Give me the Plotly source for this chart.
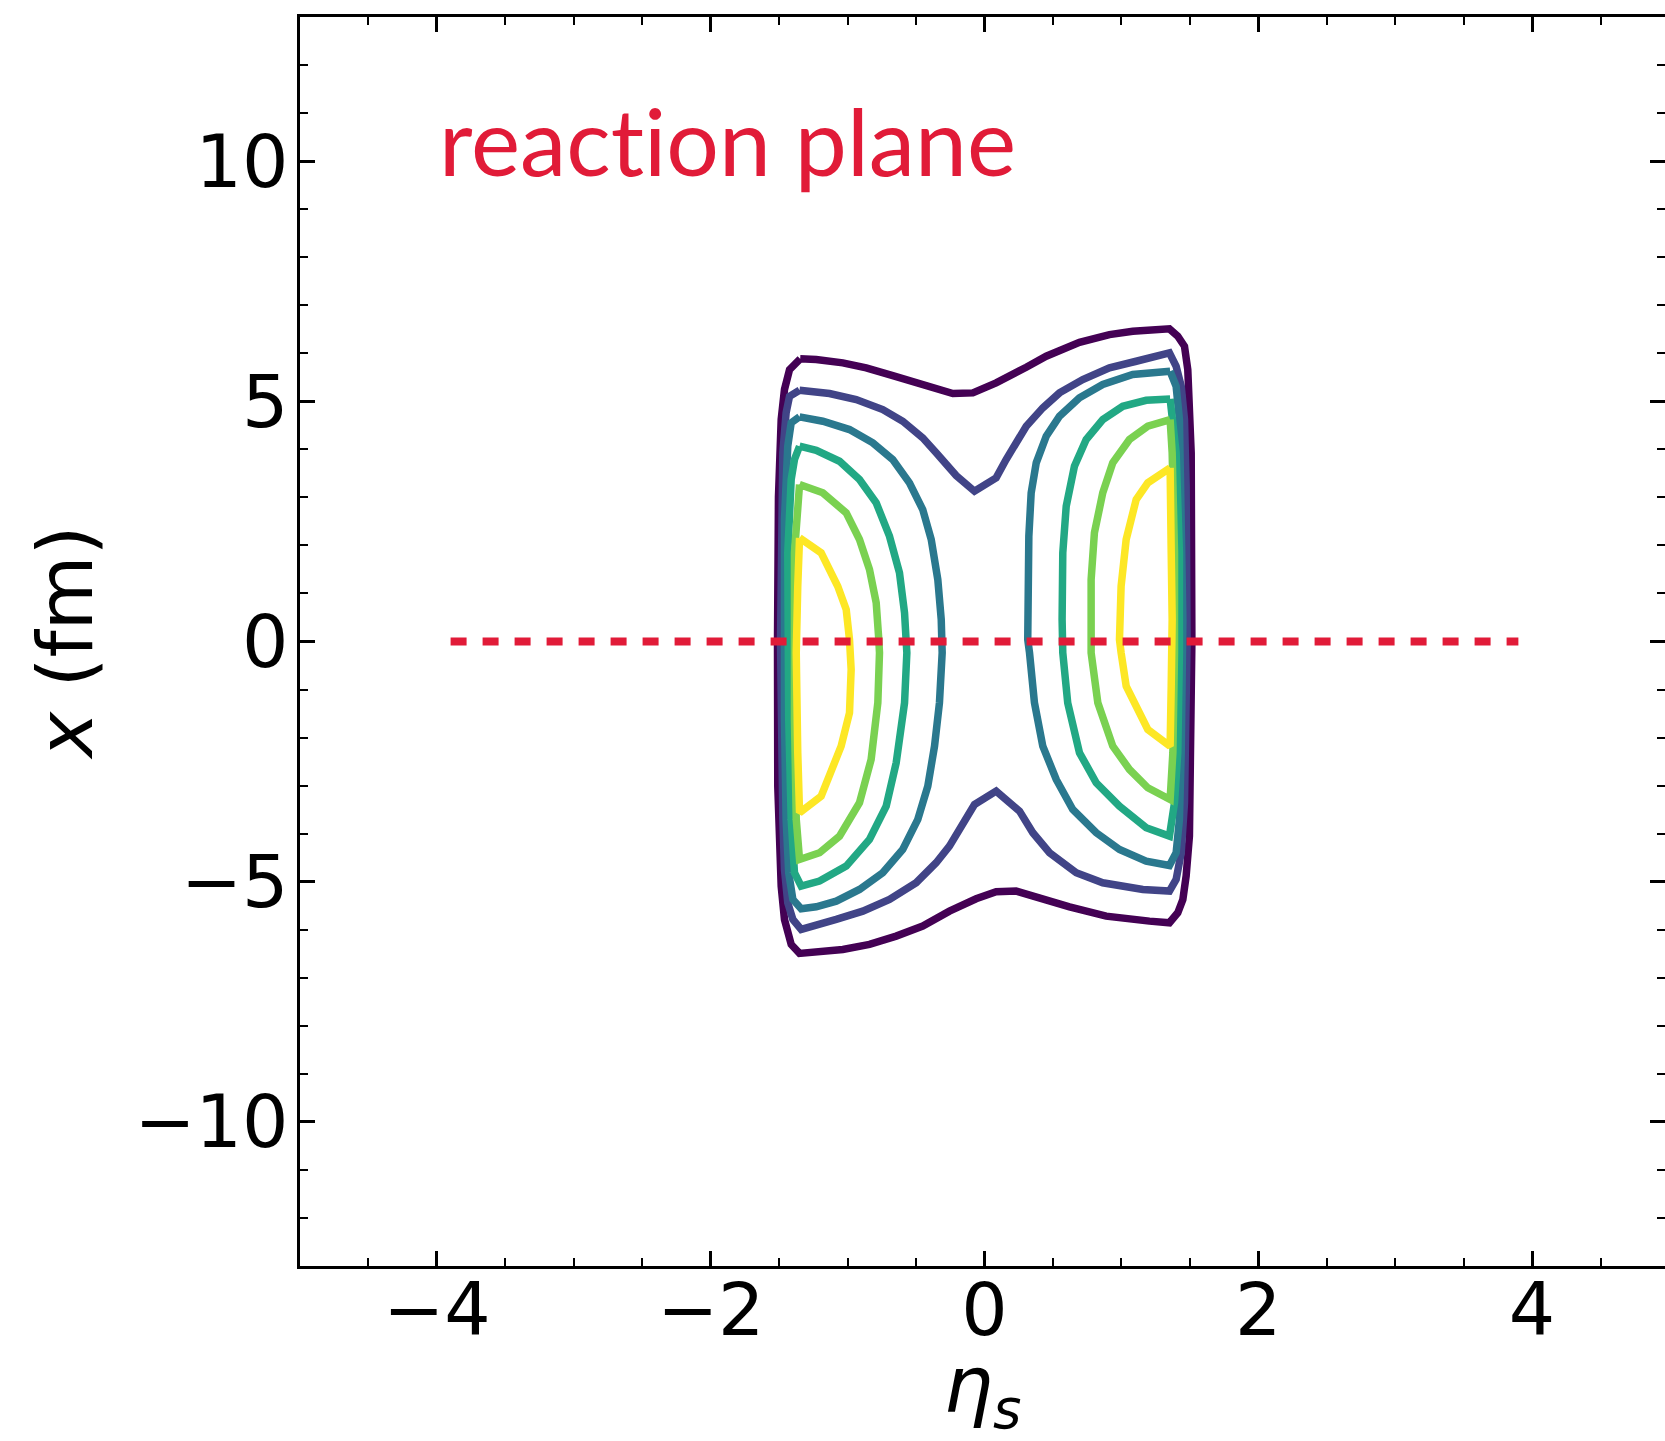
import plotly.graph_objects as go

# ---------------- data ----------------
# contour level colours (viridis, 6 levels, lowest -> highest)
LEVEL_COLORS = ["#440154", "#414487", "#2a788e", "#22a884", "#7ad151", "#fde725"]

# level 0 : one closed curve
L0_ETA = [-1.346, -1.229, -1.035, -0.864, -0.670, -0.451, -0.231, -0.085, 0.085, 0.305, 0.451, 0.694,
          0.913, 1.083, 1.351, 1.412, 1.461, 1.485, 1.497, 1.510, 1.515, 1.510, 1.497, 1.473, 1.449,
          1.412, 1.351, 1.205, 0.889, 0.621, 0.402, 0.231, 0.085, -0.061, -0.256, -0.451, -0.645,
          -0.840, -1.035, -1.181, -1.351, -1.412, -1.461, -1.485, -1.497, -1.510, -1.512, -1.505,
          -1.485, -1.461, -1.424, -1.346]
L0_X = [5.884, 5.869, 5.800, 5.696, 5.536, 5.369, 5.161, 5.175, 5.384, 5.709, 5.938, 6.229,
        6.389, 6.458, 6.508, 6.354, 6.146, 5.661, 4.968, 3.930, 0.000, -3.010, -4.050, -4.884, -5.370,
        -5.646, -5.855, -5.821, -5.717, -5.522, -5.334, -5.196, -5.209, -5.355, -5.613, -5.925, -6.133,
        -6.306, -6.410, -6.458, -6.493, -6.306, -5.786, -5.093, -4.398, -3.010, 0.000, 3.000,
        4.620, 5.245, 5.661, 5.884]

# level 1 : one closed curve
L1_ETA = [-1.351, -1.132, -0.937, -0.743, -0.597, -0.451, -0.353, -0.256, -0.207, -0.073, 0.085, 0.158,
          0.231, 0.305, 0.426, 0.548, 0.718, 0.913, 1.108, 1.351, 1.400, 1.437, 1.461, 1.473, 1.480,
          1.473, 1.461, 1.437, 1.400, 1.351, 1.157, 0.864, 0.670, 0.475, 0.353, 0.256, 0.085, -0.073,
          -0.134, -0.256, -0.353, -0.499, -0.694, -0.889, -1.083, -1.229, -1.339, -1.400, -1.437,
          -1.461, -1.473, -1.490, -1.485, -1.473, -1.449, -1.424, -1.351]
L1_X = [5.230, 5.161, 5.036, 4.828, 4.585, 4.239, 3.927, 3.580, 3.455, 3.128, 3.407, 3.788,
        4.135, 4.481, 4.864, 5.176, 5.453, 5.696, 5.834, 6.008, 5.730, 5.313, 4.620, 3.232, 0.000,
        -1.971, -3.357, -4.398, -4.953, -5.196, -5.161, -5.022, -4.814, -4.398, -3.981, -3.531, -3.115, -3.392,
        -3.704, -4.260, -4.606, -5.022, -5.369, -5.613, -5.786, -5.890, -5.994, -5.786, -5.438,
        -4.745, -3.704, 0.000, 2.540, 3.930, 4.760, 5.105, 5.230]

# level 2 : left and right closed curves
L2L_ETA = [-1.351, -1.181, -0.986, -0.816, -0.670, -0.548, -0.451, -0.389, -0.341, -0.316, -0.309, -0.329,
           -0.365, -0.414, -0.487, -0.597, -0.743, -0.913, -1.083, -1.229, -1.339, -1.400, -1.430,
           -1.449, -1.461, -1.461, -1.437, -1.412, -1.351]
L2L_X = [4.677, 4.585, 4.412, 4.135, 3.788, 3.303, 2.747, 2.123, 1.290, 0.458, -0.235, -1.276,
         -2.178, -3.011, -3.704, -4.329, -4.814, -5.161, -5.405, -5.522, -5.563, -5.369, -4.814,
         -3.704, -1.623, 2.539, 4.065, 4.552, 4.677]
L2R_ETA = [1.356, 1.083, 0.864, 0.694, 0.548, 0.451, 0.378, 0.341, 0.324, 0.316, 0.316, 0.329, 0.365,
           0.426, 0.524, 0.645, 0.816, 0.986, 1.181, 1.351, 1.400, 1.424, 1.437, 1.449, 1.424, 1.400, 1.356]
L2R_X = [5.626, 5.557, 5.349, 5.072, 4.689, 4.273, 3.719, 3.095, 2.192, 1.151, 0.040, -0.235, -1.276,
         -2.178, -2.872, -3.496, -3.981, -4.329, -4.572, -4.662, -4.398, -3.704, -2.316, 0.458, 4.620, 5.313, 5.626]

# level 3 : left and right closed curves
L3L_ETA = [-1.351, -1.229, -1.059, -0.913, -0.791, -0.694, -0.621, -0.584, -0.572, -0.567, -0.584, -0.645,
           -0.718, -0.840, -1.010, -1.205, -1.339, -1.388, -1.412, -1.430, -1.437, -1.412, -1.388, -1.351]
L3L_X = [4.065, 3.981, 3.752, 3.372, 2.886, 2.192, 1.430, 0.597, 0.000, -0.235, -1.276, -2.524,
         -3.428, -4.121, -4.676, -4.988, -5.093, -4.814, -3.704, -1.623, 1.846, 3.372, 3.788, 4.065]
L3R_ETA = [1.356, 1.181, 1.010, 0.864, 0.743, 0.657, 0.597, 0.572, 0.567, 0.572, 0.608, 0.694, 0.816,
           0.986, 1.181, 1.351, 1.388, 1.412, 1.424, 1.424, 1.400, 1.376, 1.356]
L3R_X = [5.050, 5.022, 4.897, 4.620, 4.204, 3.648, 2.816, 1.846, 0.458, -0.235, -1.276, -2.316, -2.941,
         -3.428, -3.877, -4.052, -3.357, -2.316, -0.235, 1.846, 3.927, 4.620, 5.050]

# level 4 : left and right closed curves
L4L_ETA = [-1.351, -1.181, -1.010, -0.913, -0.840, -0.791, -0.772, -0.767, -0.779, -0.828, -0.913,
           -1.059, -1.205, -1.351, -1.375, -1.388, -1.388, -1.364, -1.351]
L4L_X = [3.267, 3.095, 2.678, 2.123, 1.498, 0.805, 0.040, -0.235, -1.276, -2.456, -3.357,
         -4.052, -4.398, -4.537, -3.704, -1.623, 1.846, 2.886, 3.267]
L4R_ETA = [1.356, 1.193, 1.059, 0.937, 0.864, 0.803, 0.779, 0.772, 0.779, 0.828, 0.937, 1.059, 1.193,
           1.356, 1.376, 1.388, 1.388, 1.371, 1.356]
L4R_X = [4.620, 4.481, 4.204, 3.719, 3.095, 2.262, 1.290, 0.458, -0.235, -1.276, -2.178, -2.664, -3.045,
         -3.288, -2.316, -0.235, 1.846, 3.927, 4.620]

# level 5 : left and right closed curves
L5L_ETA = [-1.351, -1.193, -1.072, -1.010, -0.986, -0.974, -0.986, -1.047, -1.193, -1.351, -1.364,
           -1.375, -1.364, -1.351]
L5L_X = [2.158, 1.846, 1.151, 0.666, 0.040, -0.583, -1.484, -2.178, -3.220, -3.565, -2.316,
         -0.235, 1.151, 2.158]
L5R_ETA = [1.356, 1.193, 1.108, 1.035, 0.998, 0.986, 0.998, 1.035, 1.193, 1.356, 1.364, 1.371, 1.364, 1.356]
L5R_X = [3.615, 3.303, 2.955, 2.123, 1.151, 0.040, -0.235, -0.930, -1.831, -2.178, -0.930, 0.458, 1.846, 3.615]

# reaction plane line
PLANE_ETA = [-3.9, 3.9]
PLANE_X = [0.0, 0.0]
PLANE_LABEL = "react\u200cion plane"

X_RANGE = [-5, 4.971]
Y_RANGE = [-13, 13]
X_TICKS = [-4, -2, 0, 2, 4]
Y_TICKS = [-10, -5, 0, 5, 10]

# ---------------- figure ----------------
RED = "#e11b38"
TICK_FONT = dict(family="DejaVu Sans", size=73, color="black")

levels = [
    [(L0_ETA, L0_X)],
    [(L1_ETA, L1_X)],
    [(L2L_ETA, L2L_X), (L2R_ETA, L2R_X)],
    [(L3L_ETA, L3L_X), (L3R_ETA, L3R_X)],
    [(L4L_ETA, L4L_X), (L4R_ETA, L4R_X)],
    [(L5L_ETA, L5L_X), (L5R_ETA, L5R_X)],
]

fig = go.Figure()
for color, curves in zip(LEVEL_COLORS, levels):
    xs, ys = [], []
    for eta, xv in curves:
        xs += list(eta) + [None]
        ys += list(xv) + [None]
    fig.add_trace(go.Scatter(x=xs, y=ys, mode="lines", line=dict(color=color, width=7.5),
                             showlegend=False, hoverinfo="skip"))

fig.add_trace(go.Scatter(x=PLANE_ETA, y=PLANE_X, mode="lines",
                         line=dict(color=RED, width=8, dash="16px,16px"),
                         showlegend=False, hoverinfo="skip"))
# invisible trace so that the right-hand tick axis is drawn
fig.add_trace(go.Scatter(x=[X_RANGE[0]], y=[0], yaxis="y2", mode="markers",
                         marker=dict(opacity=0), showlegend=False, hoverinfo="skip"))

fig.add_annotation(x=-4.0, y=10.45, xref="x", yref="y", text=PLANE_LABEL, showarrow=False,
                   xanchor="left", yanchor="middle",
                   font=dict(family="Lato", size=93, color=RED))

fig.update_layout(
    width=1665, height=1441,
    margin=dict(l=300, r=0, t=17, b=175),
    paper_bgcolor="white", plot_bgcolor="white",
    xaxis=dict(range=X_RANGE, tickvals=X_TICKS, ticktext=[("−" if v < 0 else "") + str(abs(v)) for v in X_TICKS],
               ticks="inside", ticklen=15, tickwidth=2.5, tickcolor="black",
               showline=True, linewidth=3, linecolor="black", mirror="ticks",
               showgrid=False, zeroline=False, tickfont=TICK_FONT, ticklabelstandoff=-22,
               minor=dict(ticks="inside", ticklen=8, tickwidth=2, tickcolor="black", dtick=0.5, tick0=0,
                          showgrid=False),
               title=dict(text="<i>η</i><sub><i>s</i></sub>", font=dict(family="DejaVu Sans", size=78, color="black"),
                          standoff=26)),
    yaxis=dict(range=Y_RANGE, tickvals=Y_TICKS, ticktext=[("−" if v < 0 else "") + str(abs(v)) for v in Y_TICKS],
               ticks="inside", ticklen=15, tickwidth=2.5, tickcolor="black",
               showline=True, linewidth=3, linecolor="black", mirror=False,
               showgrid=False, zeroline=False, tickfont=TICK_FONT, ticklabelstandoff=-6,
               minor=dict(ticks="inside", ticklen=8, tickwidth=2, tickcolor="black", dtick=1, tick0=0,
                          showgrid=False),
               title=dict(text="<i>x</i> (fm)", font=dict(family="DejaVu Sans", size=77, color="black"),
                          standoff=17)),
    yaxis2=dict(range=Y_RANGE, overlaying="y", side="right", tickvals=Y_TICKS,
                ticks="inside", ticklen=15, tickwidth=2.5, tickcolor="black",
                showline=False, showgrid=False, zeroline=False, showticklabels=False,
                minor=dict(ticks="inside", ticklen=8, tickwidth=2, tickcolor="black", dtick=1, tick0=0,
                           showgrid=False)),
)

fig.write_html("out.html")
